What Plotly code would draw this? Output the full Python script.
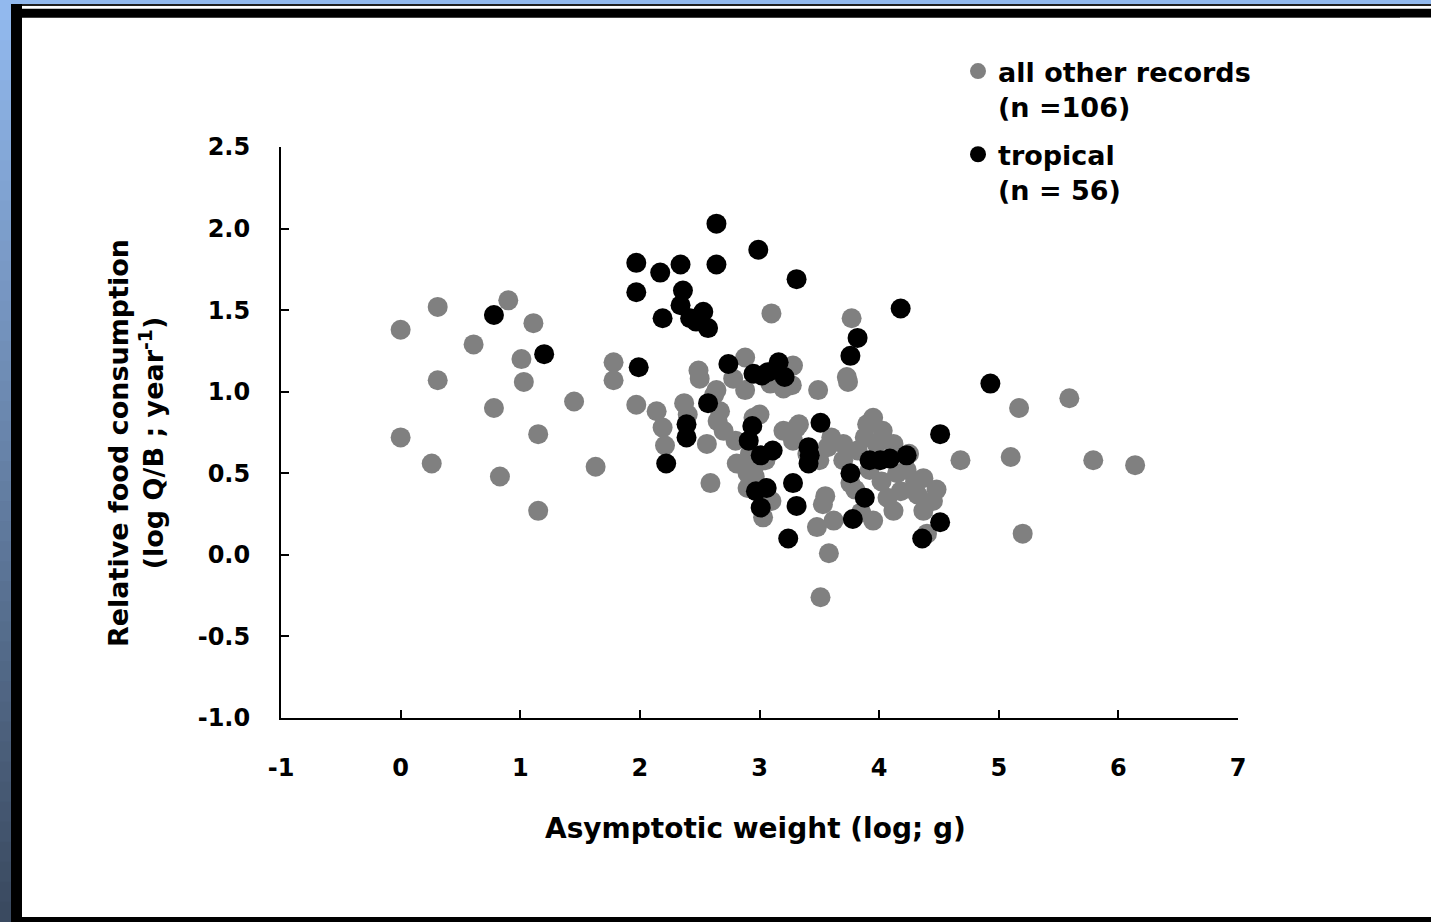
import plotly.graph_objects as go

# ---- data (log asymptotic weight, log Q/B) ----
other_x = [0.31, 0.90, 0.00, 1.11, 0.61, 1.01, 1.78, 1.78, 0.31, 1.03,
           0.78, 1.45, 1.97, 2.14, 2.19, 2.21, 2.37, 0.00, 1.15, 0.26,
           1.63, 0.83, 1.15, 2.88, 2.88, 2.49, 3.09, 2.64, 2.67, 2.65,
           2.56, 2.80, 2.81, 2.90, 2.95, 2.90, 2.95, 3.03, 2.59, 3.28,
           3.31, 3.28, 3.49, 3.74, 3.27, 3.95, 3.90, 4.03, 3.57, 3.70,
           3.82, 3.98, 4.12, 4.23, 4.37, 4.68, 3.76, 4.07, 4.18, 4.32,
           4.45, 4.37, 4.12, 3.53, 3.95, 3.48, 3.62, 4.40, 3.10, 3.77,
           3.73, 5.17, 5.59, 5.10, 5.79, 6.14, 5.20, 3.58, 3.51,
           2.92, 3.05, 3.40, 3.50, 3.70, 3.92, 4.02, 4.15, 3.88, 3.60,
           3.20, 2.70, 2.40, 3.00, 3.33, 2.78, 2.50, 3.20, 3.80, 2.96,
           4.48, 4.30, 3.55, 3.10, 3.85, 4.25, 2.62]
other_y = [1.52, 1.56, 1.38, 1.42, 1.29, 1.20, 1.18, 1.07, 1.07, 1.06,
           0.90, 0.94, 0.92, 0.88, 0.78, 0.67, 0.93, 0.72, 0.74, 0.56,
           0.54, 0.48, 0.27, 1.21, 1.01, 1.13, 1.05, 1.01, 0.88, 0.82,
           0.68, 0.70, 0.56, 0.50, 0.53, 0.41, 0.84, 0.23, 0.44, 0.70,
           0.78, 1.16, 1.01, 1.06, 1.04, 0.84, 0.80, 0.76, 0.66, 0.68,
           0.64, 0.68, 0.68, 0.52, 0.47, 0.58, 0.44, 0.35, 0.39, 0.37,
           0.33, 0.27, 0.27, 0.31, 0.21, 0.17, 0.21, 0.13, 1.48, 1.45,
           1.09, 0.90, 0.96, 0.60, 0.58, 0.55, 0.13, 0.01, -0.26,
           0.62, 0.58, 0.62, 0.58, 0.58, 0.52, 0.45, 0.50, 0.72, 0.72,
           0.76, 0.76, 0.86, 0.86, 0.80, 1.08, 1.08, 1.02, 0.40, 0.48,
           0.40, 0.45, 0.36, 0.33, 0.26, 0.62, 0.98]

trop_x = [0.78, 1.20, 1.97, 1.97, 2.17, 2.34, 2.64, 2.64, 2.99, 3.31,
          2.36, 2.34, 2.42, 2.53, 2.57, 2.19, 4.18, 3.82, 3.76, 2.74,
          2.95, 3.07, 3.16, 3.21, 1.99, 2.57, 2.39, 2.39, 2.22, 2.94,
          2.91, 3.01, 3.11, 3.51, 3.41, 3.41, 3.92, 4.09, 4.23, 3.76,
          3.06, 3.01, 3.28, 3.31, 3.88, 3.78, 4.51, 4.51, 4.36, 3.24,
          4.93, 2.47, 3.02, 3.42, 4.01, 2.97]
trop_y = [1.47, 1.23, 1.79, 1.61, 1.73, 1.78, 2.03, 1.78, 1.87, 1.69,
          1.62, 1.53, 1.45, 1.49, 1.39, 1.45, 1.51, 1.33, 1.22, 1.17,
          1.11, 1.12, 1.18, 1.09, 1.15, 0.93, 0.80, 0.72, 0.56, 0.79,
          0.70, 0.61, 0.64, 0.81, 0.66, 0.56, 0.58, 0.59, 0.61, 0.50,
          0.41, 0.29, 0.44, 0.30, 0.35, 0.22, 0.74, 0.20, 0.10, 0.10,
          1.05, 1.43, 1.10, 0.61, 0.58, 0.39]

legend_names = ["all other records<br>(n =106)", "tropical<br>(n = 56)"]
x_ticks = [-1, 0, 1, 2, 3, 4, 5, 6, 7]
y_ticks = [-1.0, -0.5, 0.0, 0.5, 1.0, 1.5, 2.0, 2.5]

W, H = 1431, 922
ML, MR, MT, MB = 281, 1431 - 1238, 147, 922 - 718
PW, PH = W - ML - MR, H - MT - MB

FONT = "DejaVu Sans, Verdana, sans-serif"

def px2x(px):
    return (px - ML) / PW

def py2y(py):
    return (H - MB - py) / PH

fig = go.Figure()
fig.add_trace(go.Scatter(x=other_x, y=other_y, mode="markers", name=legend_names[0],
                         legendgroup="other",
                         marker=dict(color="#808080", size=20, line=dict(width=0))))
fig.add_trace(go.Scatter(x=trop_x, y=trop_y, mode="markers", name=legend_names[1],
                         legendgroup="trop",
                         marker=dict(color="#000000", size=20, line=dict(width=0))))

shapes = []
# left blue gradient strip
c0 = (146, 185, 238)
c1 = (58, 74, 96)
N = 46
for i in range(N):
    t = i / (N - 1)
    c = tuple(int(round(c0[k] + (c1[k] - c0[k]) * t)) for k in range(3))
    y0 = H * i / N
    y1 = H * (i + 1) / N + 1
    shapes.append(dict(type="rect", xref="paper", yref="paper", layer="above",
                       x0=px2x(0), x1=px2x(11), y0=py2y(y1), y1=py2y(y0),
                       fillcolor="rgb(%d,%d,%d)" % c, line=dict(width=0)))
# top blue strip
shapes.append(dict(type="rect", xref="paper", yref="paper", layer="above",
                   x0=px2x(0), x1=px2x(W), y0=py2y(4), y1=py2y(0),
                   fillcolor="rgb(146,185,238)", line=dict(width=0)))
# thin dark line at top
shapes.append(dict(type="rect", xref="paper", yref="paper", layer="above",
                   x0=px2x(11), x1=px2x(W), y0=py2y(6), y1=py2y(4),
                   fillcolor="#202020", line=dict(width=0)))
# black frame: top, left, bottom
shapes.append(dict(type="rect", xref="paper", yref="paper", layer="above",
                   x0=px2x(11), x1=px2x(W), y0=py2y(17.7), y1=py2y(8.7),
                   fillcolor="#000000", line=dict(width=0)))
shapes.append(dict(type="rect", xref="paper", yref="paper", layer="above",
                   x0=px2x(11), x1=px2x(22), y0=py2y(H), y1=py2y(4),
                   fillcolor="#000000", line=dict(width=0)))
shapes.append(dict(type="rect", xref="paper", yref="paper", layer="above",
                   x0=px2x(11), x1=px2x(W), y0=py2y(H), y1=py2y(917),
                   fillcolor="#000000", line=dict(width=0)))
# keep the right edge white
shapes.append(dict(type="rect", xref="paper", yref="paper", layer="above",
                   x0=px2x(1400), x1=px2x(W + 2), y0=py2y(917), y1=py2y(17.7),
                   fillcolor="#ffffff", line=dict(width=0)))

fig.update_layout(
    width=W, height=H,
    margin=dict(l=ML, r=MR, t=MT, b=MB, autoexpand=False),
    paper_bgcolor="white", plot_bgcolor="white",
    font=dict(family=FONT, size=24, color="black", weight=700),
    shapes=shapes,
    legend=dict(x=px2x(958), y=py2y(47), xanchor="left", yanchor="top",
                bgcolor="rgba(0,0,0,0)", valign="top",
                font=dict(family=FONT, size=27, color="black", weight=700),
                itemwidth=30, tracegroupgap=10),
    xaxis=dict(range=[-1, 7], tickvals=x_ticks, ticktext=[str(v) for v in x_ticks],
               showgrid=False, zeroline=False, showline=True, linecolor="black", linewidth=2,
               ticks="inside", ticklen=8, tickwidth=2, tickcolor="black",
               ticklabelstandoff=27,
               tickfont=dict(family=FONT, size=24, weight=700)),
    yaxis=dict(range=[-1, 2.5], tickvals=y_ticks, ticktext=["%.1f" % v for v in y_ticks],
               showgrid=False, zeroline=False, showline=True, linecolor="black", linewidth=2,
               ticks="inside", ticklen=8, tickwidth=2, tickcolor="black",
               ticklabelstandoff=24,
               tickfont=dict(family=FONT, size=24, weight=700)),
    annotations=[
        dict(text="Asymptotic weight (log; g)", xref="paper", yref="paper",
             x=px2x(755), y=py2y(828), xanchor="center", yanchor="middle", showarrow=False,
             font=dict(family=FONT, size=28, weight=700)),
        dict(text="Relative food consumption<br>(log Q/B ; year<sup>-1</sup>)", xref="paper", yref="paper",
             x=px2x(136), y=py2y(443), xanchor="center", yanchor="middle", showarrow=False,
             textangle=-90, font=dict(family=FONT, size=27, weight=700)),
    ],
)

fig.write_html(
    "out.html",
    config={"displayModeBar": False},
    post_script=("document.body.style.margin='0';"
                 "document.body.style.overflow='hidden';"
                 "document.documentElement.style.overflow='hidden';"),
)
